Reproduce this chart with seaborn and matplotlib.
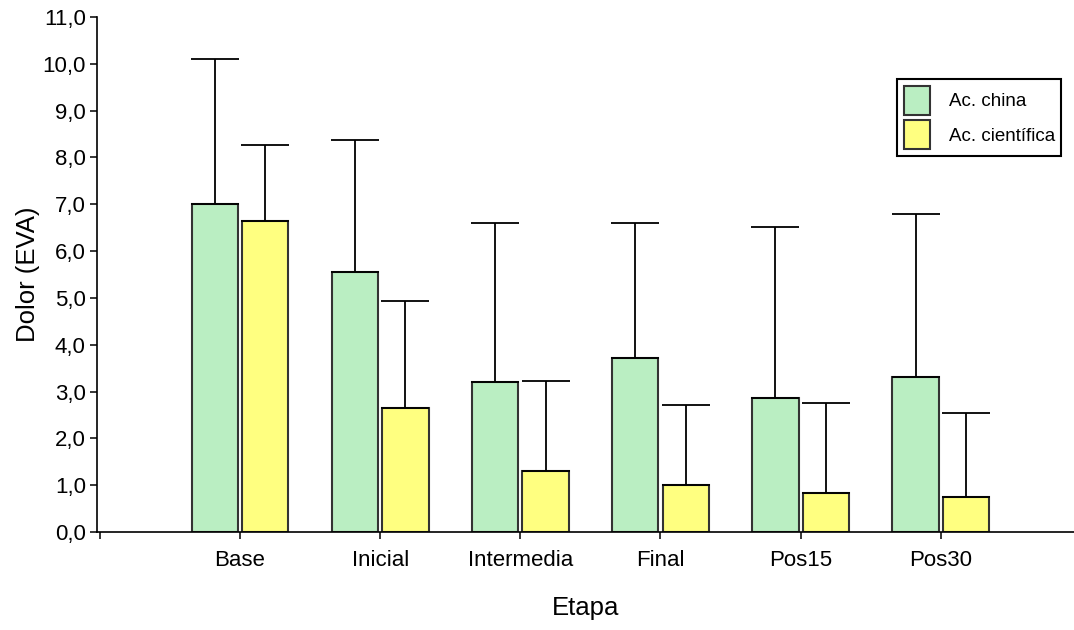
import numpy as np
import pandas as pd
import seaborn as sns
import matplotlib
matplotlib.use("Agg")
import matplotlib.pyplot as plt

# data (mean and SD of pain score)
etapas = ["Base", "Inicial", "Intermedia", "Final", "Pos15", "Pos30"]
grupos = ["Ac. china", "Ac. científica"]
china_media = [7.0, 5.55, 3.2, 3.72, 2.86, 3.31]
china_de = [3.1, 2.82, 3.4, 2.88, 3.66, 3.49]
cientifica_media = [6.65, 2.65, 1.3, 1.0, 0.83, 0.75]
cientifica_de = [1.62, 2.28, 1.93, 1.71, 1.93, 1.8]

df = pd.DataFrame({
    "Etapa": etapas * 2,
    "Grupo": [grupos[0]] * 6 + [grupos[1]] * 6,
    "Dolor": china_media + cientifica_media,
})
sds = [china_de, cientifica_de]

sns.set_style("ticks")
plt.rcParams["font.family"] = ["Liberation Sans", "DejaVu Sans"]
for k in ["text.color", "axes.labelcolor", "xtick.color", "ytick.color"]:
    plt.rcParams[k] = "black"

fig = plt.figure(figsize=(10.74, 6.3), dpi=100)
ax = fig.add_axes([0.0903, 0.1556, 0.9097, 0.8175])

sns.barplot(data=df, x="Etapa", y="Dolor", hue="Grupo", order=etapas,
            palette=["#BAEEC2", "#FFFF80"], errorbar=None, width=0.72, gap=0.08,
            edgecolor="#333333", linewidth=1.5, ax=ax, saturation=1)

# one-sided error bars (upward only), caps as wide as the bars
for cont, sd in zip(ax.containers, sds):
    xs = [b.get_x() + b.get_width() / 2 for b in cont]
    ys = [b.get_height() for b in cont]
    ax.errorbar(xs, ys, yerr=[np.zeros(len(sd)), sd], fmt="none",
                ecolor="black", elinewidth=1.3, capsize=17, capthick=1.3, zorder=1)

ax.set_ylim(0, 11)
ax.set_xlim(-1.02, 5.95)
ax.set_yticks(np.arange(0, 12, 1))
ax.set_yticklabels([f"{v:.1f}".replace(".", ",") for v in range(12)], fontsize=16)
ax.set_xticks(range(len(etapas)))
ax.set_xticklabels(etapas, fontsize=16)
ax.set_xticks([-1], minor=True)
ax.tick_params(axis="both", which="both", length=5, width=1.1, color="black", pad=3)
ax.tick_params(axis="x", pad=8)

ax.set_xlabel("Etapa", fontsize=18.5, labelpad=18)
ax.set_ylabel("Dolor (EVA)", fontsize=18.5, labelpad=2)

for s in ["top", "right"]:
    ax.spines[s].set_visible(False)
for s in ["left", "bottom"]:
    ax.spines[s].set_color("black")
    ax.spines[s].set_linewidth(1.2)

leg = ax.legend(loc="upper left", bbox_to_anchor=(897 / 1074, 1 - 79 / 630),
                bbox_transform=fig.transFigure, fontsize=13.5, frameon=True,
                fancybox=False, shadow=False, framealpha=1, edgecolor="black",
                handlelength=1.4, handleheight=2.0, handletextpad=1.0,
                borderpad=0.35, labelspacing=0.3, borderaxespad=0)
leg.get_frame().set_linewidth(1.5)

fig.savefig("out.png", dpi=100)
